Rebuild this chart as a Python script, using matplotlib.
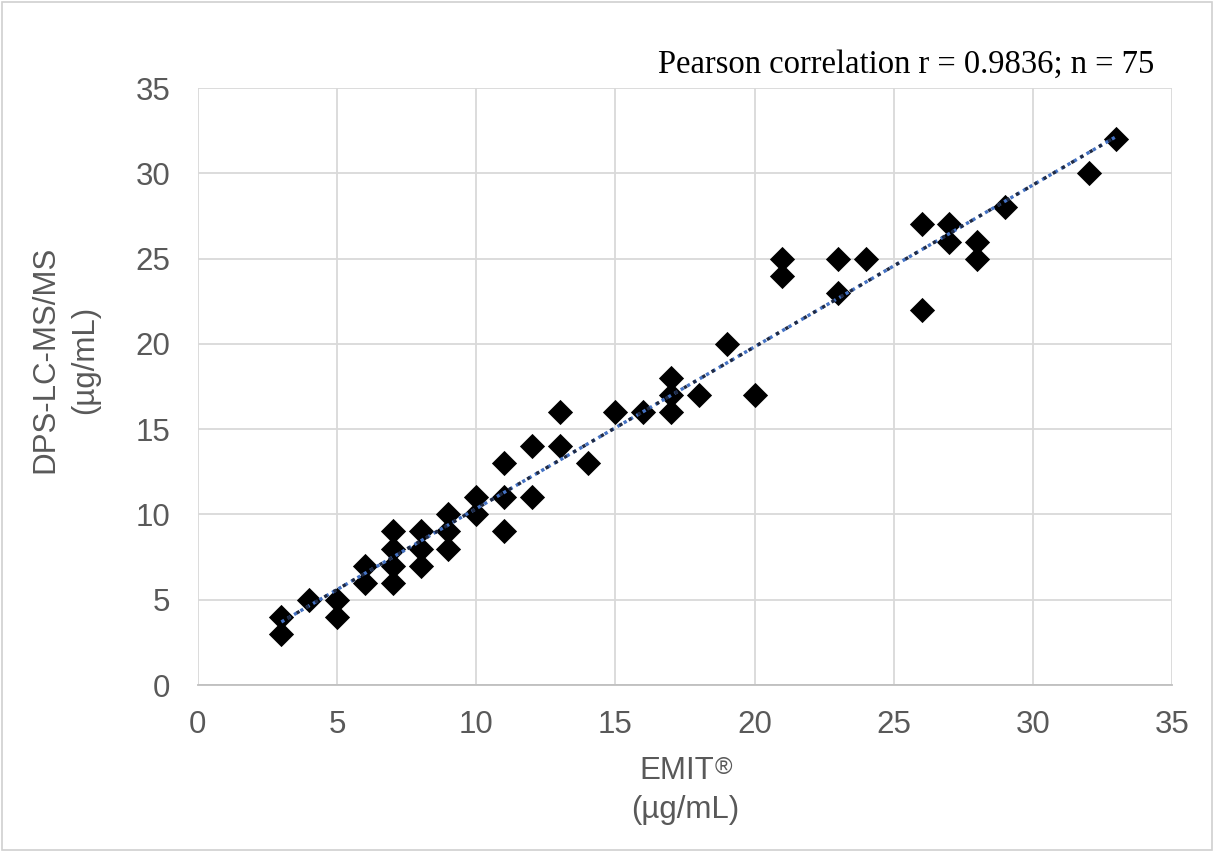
import numpy as np
import matplotlib
matplotlib.use('Agg')
import matplotlib.pyplot as plt
from matplotlib.patches import Rectangle

# EMIT vs DPS-LC-MS/MS values (µg/mL)
emit = [3, 3, 4, 5, 5, 6, 6, 7, 7, 7, 7, 8, 8, 8, 9, 9, 9, 10, 10,
        11, 11, 11, 12, 12, 13, 13, 14, 15, 16, 17, 17, 17, 18, 19, 20,
        21, 21, 23, 23, 24, 26, 26, 27, 27, 28, 28, 29, 32, 33]
dps = [3, 4, 5, 5, 4, 7, 6, 9, 8, 7, 6, 9, 8, 7, 10, 9, 8, 11, 10,
       13, 11, 9, 14, 11, 16, 14, 13, 16, 16, 18, 17, 16, 17, 20, 17,
       25, 24, 25, 23, 25, 27, 22, 27, 26, 26, 25, 28, 30, 32]
ticks = [0, 5, 10, 15, 20, 25, 30, 35]

plt.rcParams['font.family'] = ['Liberation Sans', 'DejaVu Sans']
GREY = '#595959'
FS = 22.5
W, H = 1214, 852

fig = plt.figure(figsize=(W / 100, H / 100), dpi=100)
ax = fig.add_axes([0.163, 0.196, 0.8024, 0.7007])

ax.scatter(emit, dps, marker='D', s=165, color='black', zorder=3, linewidths=0)

# linear trendline (dotted, blue/dark dots like Excel)
slope, icpt = np.polyfit(emit, dps, 1)
xs = np.array([min(emit), max(emit)])
ax.plot(xs, slope * xs + icpt, color='#4472C4', lw=2.4, ls=(0, (1, 1.2)), zorder=4)
ax.plot(xs, slope * xs + icpt, color='#1F2A44', lw=2.4, ls=(1.1, (1, 2.2)), zorder=4)

ax.set_xlim(0, 35)
ax.set_ylim(0, 35)
ax.set_xticks(ticks)
ax.set_yticks(ticks)
ax.grid(True, color='#D9D9D9', lw=1.3)
ax.set_axisbelow(True)
for s in ['top', 'right', 'left']:
    ax.spines[s].set_visible(False)
ax.spines['bottom'].set_color('#BFBFBF')
ax.spines['bottom'].set_linewidth(1.3)
ax.tick_params(length=0, labelsize=FS, colors=GREY)
ax.tick_params(axis='y', pad=20)
ax.tick_params(axis='x', pad=18)

# x axis title: two lines, registered mark as small superscript
t_emit = fig.text(677 / W, 1 - 779 / H, 'EMIT', ha='center', va='baseline',
                  fontsize=FS, color=GREY)
ax.annotate('®', xy=(1, 1), xycoords=t_emit, xytext=(0, -1), textcoords='offset points',
            ha='left', va='top', fontsize=17, color=GREY)
fig.text(685 / W, 1 - 818 / H, '(µg/mL)', ha='center', va='baseline', fontsize=FS, color=GREY)

# y axis title
fig.text(45 / W, 1 - 359 / H, 'DPS-LC-MS/MS', rotation=90, ha='center', va='center',
         fontsize=FS, color=GREY)
fig.text(85 / W, 1 - 360 / H, '(µg/mL)', rotation=90, ha='center', va='center',
         fontsize=FS, color=GREY)

fig.text(0.951, 0.914, 'Pearson correlation r = 0.9836; n = 75', ha='right',
         va='baseline', fontsize=23.5, family='Liberation Serif', color='black')

fig.patches.append(Rectangle((0.002, 0.002), 0.996, 0.996, transform=fig.transFigure,
                             fill=False, edgecolor='#D0D0D0', lw=1.2))

fig.savefig('out.png', dpi=100)
